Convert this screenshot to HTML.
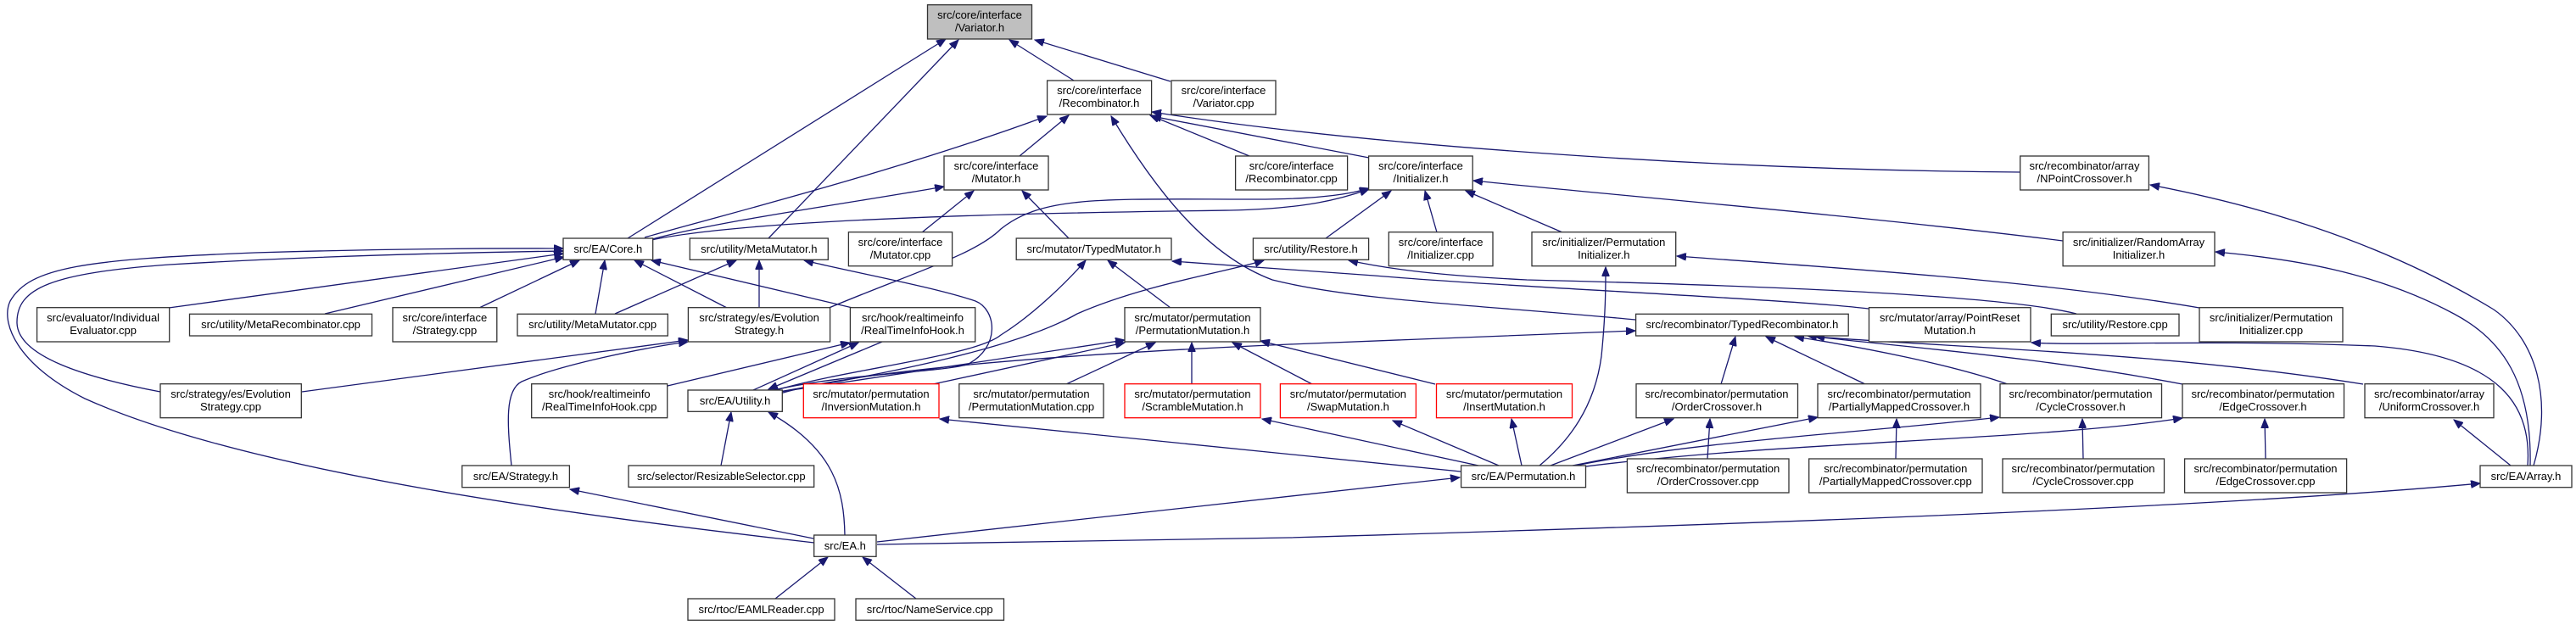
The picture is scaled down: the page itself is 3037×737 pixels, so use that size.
<!DOCTYPE html>
<html><head><meta charset="utf-8"><style>
html,body{margin:0;padding:0;background:#fff;}
svg{display:block;}
text{font-family:"Liberation Sans",Arial,sans-serif;font-size:13px;fill:#000;text-anchor:middle;}
.n{fill:#fff;stroke:#333;stroke-width:1.3;}
.r{fill:#fff;stroke:#f00;stroke-width:1.3;}
.e{fill:none;stroke:#191970;stroke-width:1.3;marker-end:url(#a);}
</style></head><body>
<svg width="3037" height="737" viewBox="0 0 3037 737" xmlns="http://www.w3.org/2000/svg">
<defs><marker id="a" markerUnits="userSpaceOnUse" markerWidth="12" markerHeight="9" refX="11" refY="4.5" orient="auto"><path d="M0,0 L11,4.5 L0,9 z" fill="#191970" stroke="#191970"/></marker></defs>

<!-- edges -->
<path class="e" d="M740,281 L1115,46"/>
<path class="e" d="M906,281 L1130,47"/>
<path class="e" d="M1266,95 L1190,47"/>
<path class="e" d="M1380,96 L1220,47"/>
<path class="e" d="M760,280 C 820,262 1050,205 1234,137"/>
<path class="e" d="M1202,184 L1260,136"/>
<path class="e" d="M1473,184 L1356,136"/>
<path class="e" d="M2382,203 C 2000,200 1600,170 1358,132"/>
<path class="e" d="M1614,186 L1358,137"/>
<path class="e" d="M1928,377 C 1750,360 1600,355 1500,330 C 1420,300 1360,220 1310,137"/>
<path class="e" d="M765,283 C 850,260 1000,240 1113,220"/>
<path class="e" d="M1087,274 L1148,225"/>
<path class="e" d="M1260,281 L1205,225"/>
<path class="e" d="M768,283 C 900,255 1300,250 1450,248 C 1540,246 1580,235 1614,223"/>
<path class="e" d="M975,364 C 1080,320 1150,300 1180,270 C 1230,230 1300,235 1480,235 C 1560,235 1595,228 1614,222"/>
<path class="e" d="M1563,281 L1640,225"/>
<path class="e" d="M1694,274 L1680,225"/>
<path class="e" d="M1842,274 L1728,225"/>
<path class="e" d="M2432,284 C 2200,255 1900,230 1737,213"/>
<path class="e" d="M199,363 L664,299"/>
<path class="e" d="M383,370 L665,303"/>
<path class="e" d="M565,363 L683,307"/>
<path class="e" d="M702,370 L713,307"/>
<path class="e" d="M857,363 L748,307"/>
<path class="e" d="M1005,363 L768,307"/>
<path class="e" d="M189,462 C 100,445 20,420 20,380 C 20,340 60,322 200,312 C 400,300 600,297 664,296"/>
<path class="e" d="M960,640 C 700,610 300,560 100,470 C 20,430 0,380 12,355 C 35,315 100,306 300,298 C 500,292 620,293 664,293"/>
<path class="e" d="M356,462 L811,401"/>
<path class="e" d="M603,549 C 598,500 595,460 615,450 C 660,430 760,410 811,403"/>
<path class="e" d="M725,370 L868,307"/>
<path class="e" d="M895,363 L895,307"/>
<path class="e" d="M912,460 C 1000,440 1100,440 1140,430 C 1180,410 1175,365 1150,355 C 1100,338 1000,320 948,307"/>
<path class="e" d="M888,460 L1012,404"/>
<path class="e" d="M1040,403 L906,459"/>
<path class="e" d="M787,455 L1002,404"/>
<path class="e" d="M850,549 L862,486"/>
<path class="e" d="M996,631 C 995,580 985,530 906,486"/>
<path class="e" d="M915,460 C 1000,435 1150,420 1180,395 C 1220,370 1260,330 1280,307"/>
<path class="e" d="M918,462 C 1050,440 1200,410 1270,370 C 1350,335 1450,320 1490,307"/>
<path class="e" d="M920,462 L1326,401"/>
<path class="e" d="M920,464 C 1000,440 1200,420 1520,406 L1928,390"/>
<path class="e" d="M1100,453 L1326,404"/>
<path class="e" d="M1257,453 L1362,404"/>
<path class="e" d="M1405,453 L1405,404"/>
<path class="e" d="M1547,453 L1453,404"/>
<path class="e" d="M1692,453 L1486,402"/>
<path class="e" d="M1380,363 L1306,307"/>
<path class="e" d="M1722,556 L1108,494"/>
<path class="e" d="M1743,549 L1488,494"/>
<path class="e" d="M1767,549 L1642,496"/>
<path class="e" d="M1794,549 L1782,494"/>
<path class="e" d="M1815,549 C 1850,520 1880,480 1888,420 C 1893,370 1893,340 1893,315"/>
<path class="e" d="M1828,549 L1973,494"/>
<path class="e" d="M1854,549 L2143,492"/>
<path class="e" d="M1858,549 C 2000,520 2200,510 2357,492"/>
<path class="e" d="M1862,551 C 2100,520 2400,520 2573,493"/>
<path class="e" d="M1034,639 L1721,563"/>
<path class="e" d="M1034,642 L1520,634 C 2000,620 2600,600 2924,570"/>
<path class="e" d="M959,635 L672,577"/>
<path class="e" d="M914,706 L976,657"/>
<path class="e" d="M1080,706 L1017,657"/>
<path class="e" d="M2029,453 L2046,397"/>
<path class="e" d="M2199,453 L2082,397"/>
<path class="e" d="M2367,453 C 2300,430 2200,410 2116,397"/>
<path class="e" d="M2573,453 C 2400,420 2250,410 2131,396"/>
<path class="e" d="M2786,453 C 2550,415 2300,410 2140,397"/>
<path class="e" d="M2203,364 C 2100,352 1800,340 1620,325 L1382,308"/>
<path class="e" d="M2448,370 C 2350,345 2000,335 1800,330 C 1700,325 1640,318 1590,307"/>
<path class="e" d="M2593,363 C 2400,330 2150,315 1977,302"/>
<path class="e" d="M2980,549 C 2985,480 2950,420 2800,408 C 2600,400 2450,408 2395,404"/>
<path class="e" d="M2987,549 C 3010,470 2990,400 2940,365 C 2800,280 2650,240 2535,218"/>
<path class="e" d="M2983,549 C 2985,450 2950,400 2893,370 C 2800,320 2700,305 2612,297"/>
<path class="e" d="M2960,549 L2893,495"/>
<path class="e" d="M2013,541 L2016,494"/>
<path class="e" d="M2235,541 L2236,494"/>
<path class="e" d="M2456,541 L2455,494"/>
<path class="e" d="M2671,541 L2670,494"/>

<!-- nodes -->
<rect x="1093.5" y="5.7" width="123" height="40.3" fill="#bfbfbf" stroke="#333" stroke-width="1.3"/>
<text x="1155" y="22">src/core/interface</text><text x="1155" y="37">/Variator.h</text>

<rect class="n" x="1234.6" y="95" width="123" height="40"/><text x="1296" y="111">src/core/interface</text><text x="1296" y="126">/Recombinator.h</text>
<rect class="n" x="1381" y="95" width="123" height="40"/><text x="1442.5" y="111">src/core/interface</text><text x="1442.5" y="126">/Variator.cpp</text>
<rect class="n" x="1113" y="184" width="123" height="40"/><text x="1174.5" y="200">src/core/interface</text><text x="1174.5" y="215">/Mutator.h</text>
<rect class="n" x="1456.6" y="184" width="132" height="40"/><text x="1522.6" y="200">src/core/interface</text><text x="1522.6" y="215">/Recombinator.cpp</text>
<rect class="n" x="1613.6" y="184" width="122.6" height="40"/><text x="1675" y="200">src/core/interface</text><text x="1675" y="215">/Initializer.h</text>
<rect class="n" x="2381.7" y="184" width="151.7" height="40"/><text x="2457.5" y="200">src/recombinator/array</text><text x="2457.5" y="215">/NPointCrossover.h</text>

<rect class="n" x="664" y="281" width="105.7" height="25.3"/><text x="716.8" y="298">src/EA/Core.h</text>
<rect class="n" x="813.3" y="281" width="163" height="25.3"/><text x="894.8" y="298">src/utility/MetaMutator.h</text>
<rect class="n" x="1000.4" y="273.7" width="122.2" height="40"/><text x="1061.5" y="290">src/core/interface</text><text x="1061.5" y="305">/Mutator.cpp</text>
<rect class="n" x="1198.2" y="281" width="182.8" height="25.3"/><text x="1289.6" y="298">src/mutator/TypedMutator.h</text>
<rect class="n" x="1477.4" y="281" width="136.2" height="25.3"/><text x="1545.5" y="298">src/utility/Restore.h</text>
<rect class="n" x="1637.3" y="273.7" width="122.7" height="40"/><text x="1698.6" y="290">src/core/interface</text><text x="1698.6" y="305">/Initializer.cpp</text>
<rect class="n" x="1806" y="273.7" width="169.7" height="40"/><text x="1890.8" y="290">src/initializer/Permutation</text><text x="1890.8" y="305">Initializer.h</text>
<rect class="n" x="2432.1" y="273.7" width="178.9" height="40"/><text x="2521.5" y="290">src/initializer/RandomArray</text><text x="2521.5" y="305">Initializer.h</text>

<rect class="n" x="43.6" y="362.7" width="156.1" height="40.3"/><text x="121.6" y="379">src/evaluator/Individual</text><text x="121.6" y="394">Evaluator.cpp</text>
<rect class="n" x="223.5" y="370.3" width="215" height="25.7"/><text x="331" y="387">src/utility/MetaRecombinator.cpp</text>
<rect class="n" x="463" y="362.7" width="122.8" height="40.3"/><text x="524.4" y="379">src/core/interface</text><text x="524.4" y="394">/Strategy.cpp</text>
<rect class="n" x="610" y="370.3" width="177.3" height="25.7"/><text x="698.6" y="387">src/utility/MetaMutator.cpp</text>
<rect class="n" x="811.4" y="362.7" width="167.2" height="40.3"/><text x="895" y="379">src/strategy/es/Evolution</text><text x="895" y="394">Strategy.h</text>
<rect class="n" x="1002.4" y="362.7" width="147.3" height="40.3"/><text x="1076" y="379">src/hook/realtimeinfo</text><text x="1076" y="394">/RealTimeInfoHook.h</text>
<rect class="n" x="1326" y="362.7" width="160" height="40.3"/><text x="1406" y="379">src/mutator/permutation</text><text x="1406" y="394">/PermutationMutation.h</text>
<rect class="n" x="1928.6" y="370.3" width="250.6" height="25.7"/><text x="2053.9" y="387">src/recombinator/TypedRecombinator.h</text>
<rect class="n" x="2203.5" y="362.7" width="190.5" height="40.3"/><text x="2298.7" y="379">src/mutator/array/PointReset</text><text x="2298.7" y="394">Mutation.h</text>
<rect class="n" x="2418.3" y="370.3" width="150.7" height="25.7"/><text x="2493.6" y="387">src/utility/Restore.cpp</text>
<rect class="n" x="2593" y="362.7" width="169" height="40.3"/><text x="2677.5" y="379">src/initializer/Permutation</text><text x="2677.5" y="394">Initializer.cpp</text>

<rect class="n" x="189" y="452.7" width="166.3" height="40"/><text x="272" y="469">src/strategy/es/Evolution</text><text x="272" y="484">Strategy.cpp</text>
<rect class="n" x="626.7" y="452.7" width="160" height="40"/><text x="706.7" y="469">src/hook/realtimeinfo</text><text x="706.7" y="484">/RealTimeInfoHook.cpp</text>
<rect class="n" x="811" y="460" width="111.3" height="25.3"/><text x="866.6" y="477">src/EA/Utility.h</text>
<rect class="r" x="947.3" y="452.7" width="159.7" height="40"/><text x="1027" y="469">src/mutator/permutation</text><text x="1027" y="484">/InversionMutation.h</text>
<rect class="n" x="1130.8" y="452.7" width="170.2" height="40"/><text x="1216" y="469">src/mutator/permutation</text><text x="1216" y="484">/PermutationMutation.cpp</text>
<rect class="r" x="1326" y="452.7" width="160" height="40"/><text x="1406" y="469">src/mutator/permutation</text><text x="1406" y="484">/ScrambleMutation.h</text>
<rect class="r" x="1509.4" y="452.7" width="160" height="40"/><text x="1589.4" y="469">src/mutator/permutation</text><text x="1589.4" y="484">/SwapMutation.h</text>
<rect class="r" x="1693.5" y="452.7" width="160" height="40"/><text x="1773.5" y="469">src/mutator/permutation</text><text x="1773.5" y="484">/InsertMutation.h</text>
<rect class="n" x="1929" y="452.7" width="190.5" height="40"/><text x="2024" y="469">src/recombinator/permutation</text><text x="2024" y="484">/OrderCrossover.h</text>
<rect class="n" x="2143" y="452.7" width="192" height="40"/><text x="2239" y="469">src/recombinator/permutation</text><text x="2239" y="484">/PartiallyMappedCrossover.h</text>
<rect class="n" x="2358" y="452.7" width="190.5" height="40"/><text x="2453" y="469">src/recombinator/permutation</text><text x="2453" y="484">/CycleCrossover.h</text>
<rect class="n" x="2573" y="452.7" width="190.5" height="40"/><text x="2668" y="469">src/recombinator/permutation</text><text x="2668" y="484">/EdgeCrossover.h</text>
<rect class="n" x="2788" y="452.7" width="152" height="40"/><text x="2864" y="469">src/recombinator/array</text><text x="2864" y="484">/UniformCrossover.h</text>

<rect class="n" x="544.8" y="549" width="126.6" height="25.7"/><text x="608" y="566">src/EA/Strategy.h</text>
<rect class="n" x="741" y="549" width="218.7" height="25.3"/><text x="850.3" y="566">src/selector/ResizableSelector.cpp</text>
<rect class="n" x="1722.6" y="549" width="146.9" height="25.7"/><text x="1796" y="566">src/EA/Permutation.h</text>
<rect class="n" x="1918.4" y="541" width="190.6" height="40"/><text x="2013.7" y="557">src/recombinator/permutation</text><text x="2013.7" y="572">/OrderCrossover.cpp</text>
<rect class="n" x="2132.7" y="541" width="204.3" height="40"/><text x="2234.8" y="557">src/recombinator/permutation</text><text x="2234.8" y="572">/PartiallyMappedCrossover.cpp</text>
<rect class="n" x="2361" y="541" width="190.5" height="40"/><text x="2456" y="557">src/recombinator/permutation</text><text x="2456" y="572">/CycleCrossover.cpp</text>
<rect class="n" x="2575.6" y="541" width="191" height="40"/><text x="2671" y="557">src/recombinator/permutation</text><text x="2671" y="572">/EdgeCrossover.cpp</text>
<rect class="n" x="2924" y="549" width="108" height="25.7"/><text x="2978" y="566">src/EA/Array.h</text>

<rect class="n" x="959.7" y="631" width="73.3" height="25.3"/><text x="996.3" y="648">src/EA.h</text>
<rect class="n" x="811" y="706" width="173" height="25.3"/><text x="897.5" y="723">src/rtoc/EAMLReader.cpp</text>
<rect class="n" x="1009" y="706" width="174.5" height="25.3"/><text x="1096.2" y="723">src/rtoc/NameService.cpp</text>
</svg>
</body></html>
